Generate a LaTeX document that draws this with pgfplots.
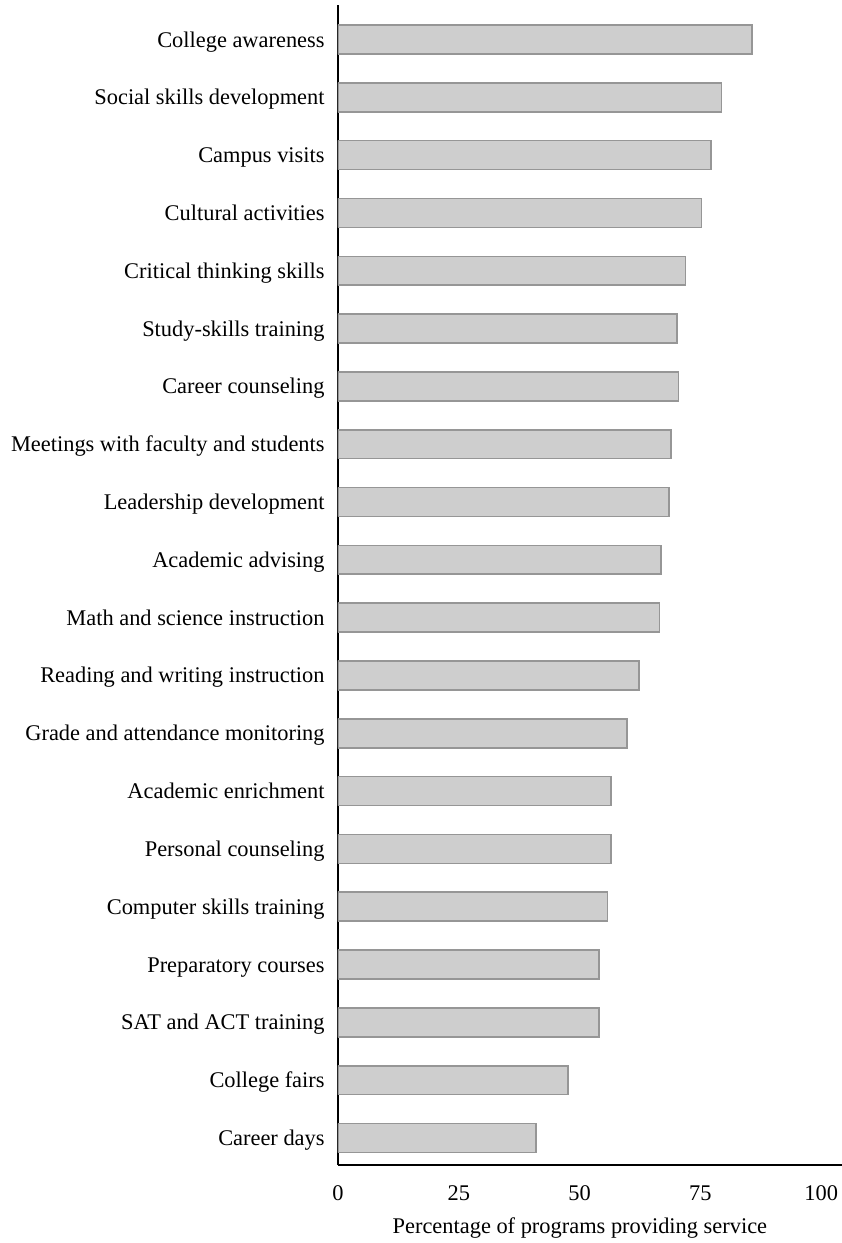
\documentclass[border=0pt]{standalone}
\usepackage{fontspec}
\setmainfont{Liberation Serif}
\usepackage{pgfplots}
\pgfplotsset{compat=1.18}
\definecolor{barfill}{RGB}{206,206,206}
\definecolor{baredge}{RGB}{150,150,150}
\begin{document}
\fontsize{11.2bp}{13bp}\selectfont
\begin{tikzpicture}
\begin{axis}[
  at={(0,0)}, anchor=south west,
  scale only axis,
  width=252bp, height=580bp,
  xmin=0, xmax=104.3,
  ymin=-0.467, ymax=19.597,
  xbar, bar width=0.5,
  axis x line*=bottom, axis y line*=left,
  axis line style={line width=1bp, black},
  major tick length=0pt,
  xtick={0,25,50,75,100},
  ytick={0,...,19},
  yticklabels={Career days, College fairs, SAT and ACT training, Preparatory courses, Computer skills training, Personal counseling, Academic enrichment, Grade and attendance monitoring, Reading and writing instruction, Math and science instruction, Academic advising, Leadership development, Meetings with faculty and students, Career counseling, Study-skills training, Critical thinking skills, Cultural activities, Campus visits, Social skills development, College awareness},
  /pgf/number format/assume math mode=true,
  tick label style={font=\fontsize{11.2bp}{13bp}\selectfont, inner sep=0pt},
  yticklabel style={text height=9.5bp, text depth=2bp},
  yticklabel shift=6.5bp,
  xticklabel shift=10bp,
  xlabel={Percentage of programs providing service},
  xlabel style={at={(axis description cs:0.48,0)}, anchor=north, inner sep=0pt, yshift=-26bp, font=\fontsize{11.2bp}{13bp}\selectfont},
]
\addplot[fill=barfill, draw=baredge, line width=0.8bp] coordinates {
(41.0,0) (47.6,1) (54.0,2) (54.0,3) (55.8,4) (56.5,5) (56.5,6) (59.8,7) (62.3,8) (66.5,9)
(66.9,10) (68.5,11) (68.9,12) (70.5,13) (70.2,14) (71.9,15) (75.2,16) (77.2,17) (79.4,18) (85.7,19)
};
\end{axis}
\pgfresetboundingbox
\path[use as bounding box] (-169bp,-39bp) rectangle (252bp,582.5bp);
\end{tikzpicture}
\end{document}
